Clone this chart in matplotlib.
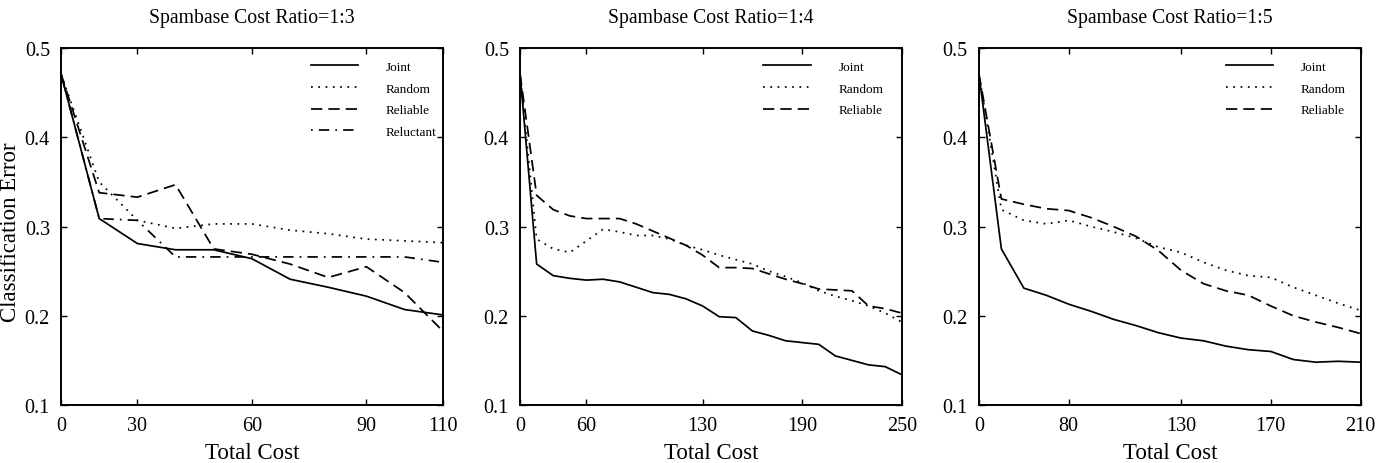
import numpy as np
import matplotlib
matplotlib.use("Agg")
import matplotlib.pyplot as plt

plt.rcParams['font.family'] = ['Liberation Serif', 'DejaVu Serif']

# Spambase, cost ratio 1:3 (11 steps)
joint_13 = [0.471, 0.309, 0.281, 0.274, 0.274, 0.264, 0.241, 0.232, 0.222, 0.207, 0.201]
random_13 = [0.471, 0.350, 0.307, 0.298, 0.303, 0.303, 0.296, 0.292, 0.286, 0.284, 0.282]
reliable_13 = [0.471, 0.338, 0.333, 0.347, 0.275, 0.269, 0.258, 0.243, 0.255, 0.226, 0.183]
reluctant_13 = [0.471, 0.309, 0.307, 0.266, 0.266, 0.266, 0.266, 0.266, 0.266, 0.266, 0.260]
ticks_13 = [0, 2, 5, 8, 10]
labels_13 = ['0', '30', '60', '90', '110']

# cost ratio 1:4 (24 steps)
joint_14 = [0.471, 0.258, 0.245, 0.242, 0.240, 0.241, 0.238, 0.232, 0.226, 0.224, 0.219,
            0.211, 0.199, 0.198, 0.183, 0.178, 0.172, 0.170, 0.168, 0.155, 0.150, 0.145,
            0.143, 0.134]
random_14 = [0.471, 0.286, 0.275, 0.271, 0.284, 0.297, 0.294, 0.290, 0.290, 0.286, 0.279,
             0.274, 0.268, 0.263, 0.258, 0.250, 0.244, 0.237, 0.228, 0.222, 0.217, 0.211,
             0.203, 0.193]
reliable_14 = [0.471, 0.335, 0.319, 0.312, 0.309, 0.309, 0.309, 0.303, 0.295, 0.287, 0.279,
               0.268, 0.254, 0.254, 0.253, 0.247, 0.241, 0.236, 0.230, 0.229, 0.228, 0.211,
               0.208, 0.203]
ticks_14 = [0, 4, 11, 17, 23]
labels_14 = ['0', '60', '130', '190', '250']

# cost ratio 1:5 (18 steps)
joint_15 = [0.471, 0.275, 0.231, 0.223, 0.213, 0.205, 0.196, 0.189, 0.181, 0.175, 0.172,
            0.166, 0.162, 0.160, 0.151, 0.148, 0.149, 0.148]
random_15 = [0.471, 0.319, 0.307, 0.303, 0.307, 0.300, 0.294, 0.287, 0.277, 0.271, 0.260,
             0.251, 0.245, 0.243, 0.232, 0.223, 0.214, 0.206]
reliable_15 = [0.471, 0.331, 0.325, 0.320, 0.318, 0.310, 0.300, 0.289, 0.273, 0.251, 0.236,
               0.228, 0.223, 0.211, 0.200, 0.193, 0.187, 0.180]
ticks_15 = [0, 4, 9, 13, 17]
labels_15 = ['0', '80', '130', '170', '210']

styles = {
    'Joint': '-',
    'Random': (0, (1, 3.2)),
    'Reliable': (0, (6.5, 3.5)),
    'Reluctant': (0, (1, 3.5, 6, 3.5)),
}

panels = [
    ('Spambase Cost Ratio=1:3', {'Joint': joint_13, 'Random': random_13,
                                 'Reliable': reliable_13, 'Reluctant': reluctant_13},
     ticks_13, labels_13, 0.654),
    ('Spambase Cost Ratio=1:4', {'Joint': joint_14, 'Random': random_14,
                                 'Reliable': reliable_14}, ticks_14, labels_14, 0.637),
    ('Spambase Cost Ratio=1:5', {'Joint': joint_15, 'Random': random_15,
                                 'Reliable': reliable_15}, ticks_15, labels_15, 0.647),
]

fig = plt.figure(figsize=(13.78, 4.64), dpi=100)
lefts = [0.0443, 0.3774, 0.7104]

for left, (title, series, ticks, labels, leg_x) in zip(lefts, panels):
    ax = fig.add_axes([left, 0.125, 0.277, 0.769])
    for name, vals in series.items():
        ax.plot(np.arange(len(vals)), vals, color='black', lw=1.25,
                linestyle=styles[name], label=name)
    n = len(series['Joint']) - 1
    ax.set_xlim(0, n)
    ax.set_ylim(0.1, 0.5)
    ax.set_xticks(ticks)
    ax.set_xticklabels(labels)
    ax.set_yticks([0.1, 0.2, 0.3, 0.4, 0.5])
    ax.set_yticklabels(['0.1', '0.2', '0.3', '0.4', '0.5'])
    ax.tick_params(direction='in', length=4.5, width=1, labelsize=14.5,
                   top=True, right=True)
    ax.tick_params(axis='y', pad=8)
    ax.tick_params(axis='x', pad=8)
    for sp in ax.spines.values():
        sp.set_linewidth(1.4)
    ax.set_title(title, fontsize=14.2, pad=19)
    ax.set_xlabel('Total Cost', fontsize=16.5, labelpad=5)
    ax.legend(loc='upper left', bbox_to_anchor=(leg_x, 0.965), frameon=False,
              fontsize=9.5, handlelength=3.6, handletextpad=2.1,
              labelspacing=0.72, borderpad=0, borderaxespad=0)

fig.text(0.0075, 0.5, 'Classification Error', rotation=90, fontsize=16.5,
         ha='center', va='center')

fig.savefig('out.png', dpi=100)
